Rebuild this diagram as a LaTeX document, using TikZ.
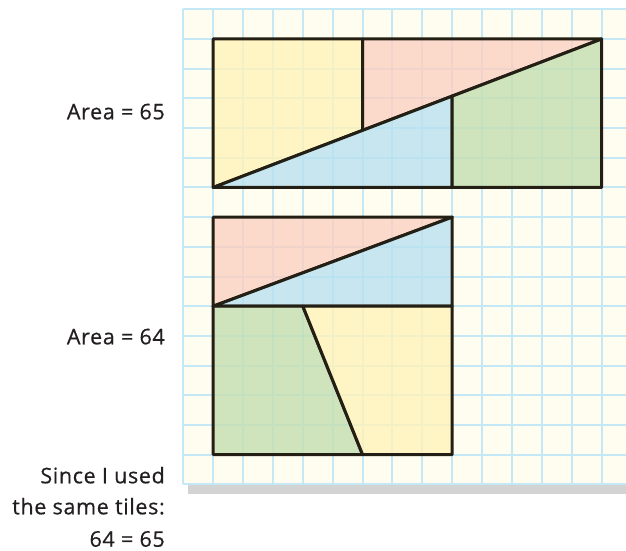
\documentclass[tikz,border=0pt]{standalone}
\usepackage{fontspec}
\setmainfont{Open Sans}[LetterSpace=3, FakeBold=0.6]
\definecolor{paper}{RGB}{255,253,240}
\definecolor{gridc}{RGB}{197,232,247}
\definecolor{shadowc}{RGB}{211,211,211}
\definecolor{yellowt}{RGB}{255,243,185}
\definecolor{pinkt}{RGB}{251,208,194}
\definecolor{bluet}{RGB}{185,225,240}
\definecolor{greent}{RGB}{196,222,176}
\definecolor{edge}{RGB}{35,31,20}
\definecolor{inkc}{RGB}{35,31,32}
\tikzset{
  tile/.style={fill opacity=0.8, draw=edge, line width=3pt, line join=round, draw opacity=1},
  lbl/.style={anchor=base east, inner sep=0pt, font=\fontsize{21.5}{26}\selectfont, text=inkc},
}
\begin{document}
\begin{tikzpicture}
\useasboundingbox (0,0) rectangle (626pt,-551pt);
\begin{scope}[shift={(183.3pt,-9.3pt)}, x=29.88pt, y=-29.69pt]
  % shadow and paper
  \fill[shadowc] (0.17,16) rectangle (14.9,16.33);
  \fill[paper] (0,0) rectangle (14.9,16);
  % grid
  \foreach \i in {0,...,14} \draw[gridc, line width=2pt] (\i,0) -- (\i,16);
  \foreach \j in {0,...,16} \draw[gridc, line width=2pt] (0,\j) -- (14.9,\j);
  % top rectangle 13 x 5
  \coordinate (a1) at (1,1);
  \coordinate (a2) at (6,1);
  \coordinate (a3) at (14,1);
  \coordinate (a4) at (6,4.077);
  \coordinate (a5) at (9,2.923);
  \coordinate (a6) at (1,6);
  \coordinate (a7) at (9,6);
  \coordinate (a8) at (14,6);
  \path[tile, fill=yellowt] (a1) -- (a2) -- (a4) -- (a6) -- cycle;
  \path[tile, fill=pinkt] (a2) -- (a3) -- (a4) -- cycle;
  \path[tile, fill=bluet] (a6) -- (a7) -- (a5) -- cycle;
  \path[tile, fill=greent] (a7) -- (a8) -- (a3) -- (a5) -- cycle;
  % bottom square 8 x 8
  \coordinate (b1) at (1,7);
  \coordinate (b2) at (9,7);
  \coordinate (b3) at (1,10);
  \coordinate (b4) at (4,10);
  \coordinate (b5) at (9,10);
  \coordinate (b6) at (1,15);
  \coordinate (b7) at (6,15);
  \coordinate (b8) at (9,15);
  \path[tile, fill=pinkt] (b1) -- (b2) -- (b3) -- cycle;
  \path[tile, fill=bluet] (b3) -- (b5) -- (b2) -- cycle;
  \path[tile, fill=greent] (b3) -- (b4) -- (b7) -- (b6) -- cycle;
  \path[tile, fill=yellowt] (b4) -- (b5) -- (b8) -- (b7) -- cycle;
\end{scope}
\node[lbl] (t65) at (165pt,-119.3pt) {Area = 65};
\node[lbl] (t64) at (165pt,-344.3pt) {Area = 64};
\node[lbl] (s1) at (165pt,-483.3pt) {Since I used};
\node[lbl] (s2) at (165pt,-514.3pt) {the same tiles:};
\node[lbl] (s3) at (165pt,-546.7pt) {64 = 65};
\end{tikzpicture}
\end{document}
